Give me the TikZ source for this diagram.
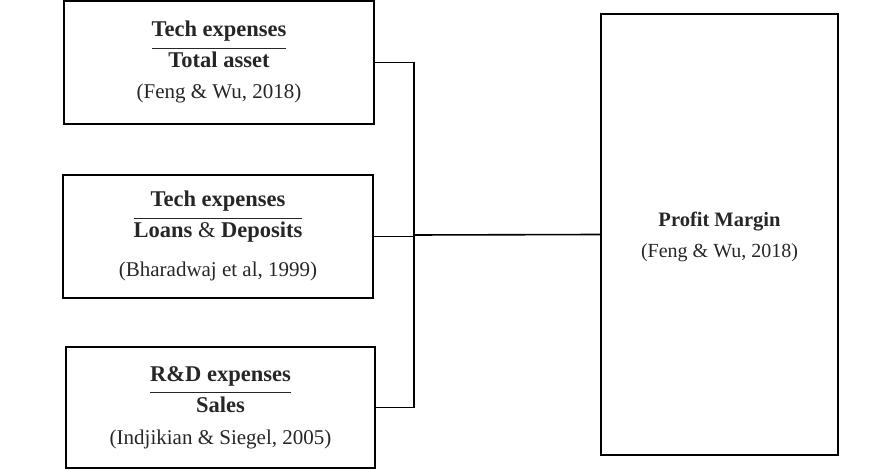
\documentclass[tikz,border=0pt]{standalone}
\usepackage{fontspec}
\setmainfont{Liberation Serif}
\usepackage{tikz}
\usetikzlibrary{positioning,calc}

\newcommand{\fracfont}{\fontsize{22.5}{28}\selectfont\bfseries}
\newcommand{\ratiotext}[4][2pt]{%
  {\fracfont\begin{tabular}[b]{@{}c@{}}#2\\[2.6pt]\hline #3\end{tabular}}\\[#1]#4\rule[-9pt]{0pt}{9pt}}

\begin{document}
\begin{tikzpicture}[x=1pt,y=-1pt,
  box/.style={draw,line width=2pt,align=center,text=black!85,
    font=\fontsize{21}{28}\selectfont,inner sep=0pt},
  link/.style={line width=1.6pt}]
  \useasboundingbox (0,0) rectangle (873,470);
  % 左侧三个比率
  \node[box,minimum width=310pt,minimum height=123pt] (techasset) at (219,62.5)
    {\ratiotext[3pt]{Tech expenses}{Total asset}{(Feng \& Wu, 2018)}};
  \node[box,minimum width=310pt,minimum height=123pt] (techloan) at (218,236.5)
    {\ratiotext[11pt]{Tech expenses}{Loans {\mdseries\&} Deposits}{(Bharadwaj et al, 1999)}};
  \node[box,minimum width=309pt,minimum height=121pt] (rdsales) at (220.5,407.5)
    {\ratiotext[4pt]{R\&D expenses}{Sales}{(Indjikian \& Siegel, 2005)}};

  % 右侧
  \node[box,minimum width=237pt,minimum height=441pt,font=\fontsize{20}{28}\selectfont] (margin) at (719.5,234.5)
    {\rule{0pt}{20pt}\textbf{\fontsize{20.5}{28}\selectfont Profit Margin}\\[3pt](Feng \& Wu, 2018)};

  \coordinate (bus) at (414,235);
  \draw[link] (techasset.east) -| (bus) |- (rdsales.east);
  \draw[link] (techloan.east) -- (techloan.east -| bus);
  \draw[link] (bus) -- (margin.west);
\end{tikzpicture}
\end{document}
